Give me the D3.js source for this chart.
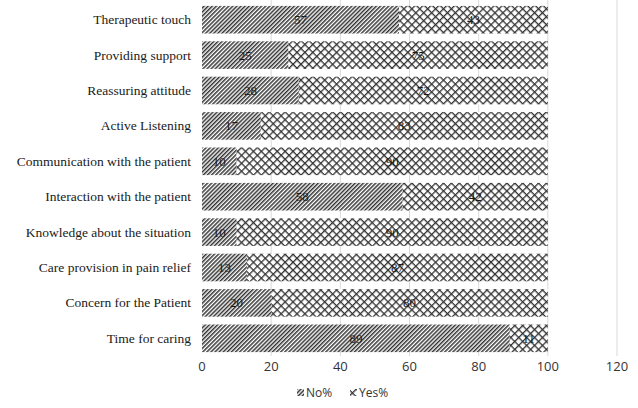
<!DOCTYPE html>
<html>
<head>
<meta charset="utf-8">
<script src="https://d3js.org/d3.v7.min.js"></script>
<style>
  body { margin: 0; background: #fff; }
  svg { display: block; }
</style>
</head>
<body>
<svg id="chart"></svg>
<script>
const categories = [
    "Therapeutic touch",
    "Providing support",
    "Reassuring attitude",
    "Active Listening",
    "Communication with the patient",
    "Interaction with the patient",
    "Knowledge about the situation",
    "Care provision in pain relief",
    "Concern for the Patient",
    "Time for caring"
];
const noValues = [57, 25, 28, 17, 10, 58, 10, 13, 20, 89];
const yesValues = [43, 75, 72, 83, 90, 42, 90, 87, 80, 11];
const xTicks = [0, 20, 40, 60, 80, 100, 120];
const seriesNames = ["No%", "Yes%"];

const width = 638, height = 408;
const margin = { top: 2, right: 21, bottom: 52, left: 202 };

const svg = d3.select("#chart").attr("width", width).attr("height", height);

// hatch patterns
const defs = svg.append("defs");
const stripe = defs.append("pattern")
    .attr("id", "stripe")
    .attr("patternUnits", "userSpaceOnUse")
    .attr("width", 2.9).attr("height", 2.9)
    .attr("patternTransform", "rotate(45)");
stripe.append("rect").attr("width", 2.9).attr("height", 2.9).attr("fill", "#fff");
stripe.append("rect").attr("width", 1.5).attr("height", 2.9).attr("fill", "#333");

const cross = defs.append("pattern")
    .attr("id", "cross")
    .attr("patternUnits", "userSpaceOnUse")
    .attr("width", 5.6).attr("height", 5.6)
    .attr("patternTransform", "rotate(45)");
cross.append("rect").attr("width", 5.6).attr("height", 5.6).attr("fill", "#fff");
cross.append("rect").attr("width", 1.3).attr("height", 5.6).attr("fill", "#333");
cross.append("rect").attr("width", 5.6).attr("height", 1.3).attr("fill", "#333");

const x = d3.scaleLinear().domain([0, 120])
    .range([margin.left, width - margin.right]);
const y = d3.scaleBand().domain(categories)
    .range([margin.top, height - margin.bottom])
    .paddingInner(0.22).paddingOuter(0.11);

// gridlines
svg.append("g")
    .selectAll("line")
    .data(xTicks.slice(1))
    .enter()
    .append("line")
    .attr("x1", d => x(d)).attr("x2", d => x(d))
    .attr("y1", 0).attr("y2", height - margin.bottom)
    .attr("stroke", "#d9d9d9").attr("stroke-width", 1);

// x axis labels
svg.append("g")
    .selectAll("text")
    .data(xTicks)
    .enter()
    .append("text")
    .attr("x", d => x(d))
    .attr("y", 371)
    .attr("text-anchor", "middle")
    .style("font-family", "'Open Sans', 'Liberation Sans', sans-serif")
    .style("font-size", "13px")
    .style("fill", "#333")
    .text(d => d);

// category labels
svg.append("g")
    .selectAll("text")
    .data(categories)
    .enter()
    .append("text")
    .attr("x", 191)
    .attr("y", d => y(d) + y.bandwidth() / 2)
    .attr("dy", "0.33em")
    .attr("text-anchor", "end")
    .style("font-family", "'Liberation Serif', serif")
    .style("font-size", "13.5px")
    .style("fill", "#1a1a1a")
    .text(d => d);

const rows = categories.map((c, i) => ({ name: c, no: noValues[i], yes: yesValues[i] }));

const bars = svg.append("g");
bars.selectAll("rect.no")
    .data(rows)
    .enter()
    .append("rect")
    .attr("class", "no")
    .attr("x", x(0))
    .attr("y", d => y(d.name))
    .attr("width", d => x(d.no) - x(0))
    .attr("height", y.bandwidth())
    .attr("fill", "url(#stripe)");

bars.selectAll("rect.yes")
    .data(rows)
    .enter()
    .append("rect")
    .attr("class", "yes")
    .attr("x", d => x(d.no))
    .attr("y", d => y(d.name))
    .attr("width", d => x(d.no + d.yes) - x(d.no))
    .attr("height", y.bandwidth())
    .attr("fill", "url(#cross)");

// value labels
const labelStyle = sel => sel
    .attr("dy", "0.35em")
    .attr("text-anchor", "middle")
    .style("font-family", "'Liberation Serif', serif")
    .style("font-size", "13px")
    .style("fill", "#1a1a1a");

bars.selectAll("text.no")
    .data(rows)
    .enter()
    .append("text")
    .attr("x", d => x(d.no / 2))
    .attr("y", d => y(d.name) + y.bandwidth() / 2)
    .call(labelStyle)
    .text(d => d.no);

bars.selectAll("text.yes")
    .data(rows)
    .enter()
    .append("text")
    .attr("x", d => x(d.no + d.yes / 2))
    .attr("y", d => y(d.name) + y.bandwidth() / 2)
    .call(labelStyle)
    .text(d => d.yes);

// legend
const legend = svg.append("g");
const legendX = [297, 350];
seriesNames.forEach((name, i) => {
    legend.append("rect")
        .attr("x", legendX[i]).attr("y", 389)
        .attr("width", 7).attr("height", 7)
        .attr("fill", i === 0 ? "url(#stripe)" : "url(#cross)");
    legend.append("text")
        .attr("x", legendX[i] + 9).attr("y", 393)
        .attr("dy", "0.35em")
        .style("font-family", "'Open Sans', 'Liberation Sans', sans-serif")
        .style("font-size", "12px")
        .style("fill", "#333")
        .text(name);
});
</script>
</body>
</html>
